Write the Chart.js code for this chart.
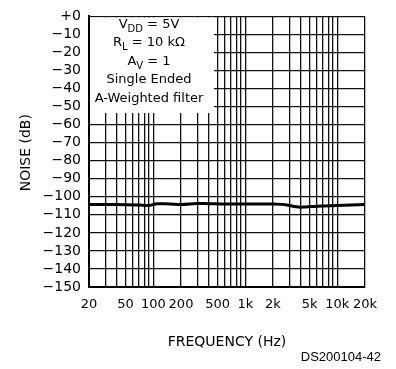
<!DOCTYPE html>
<html>
<head>
<meta charset="utf-8">
<script src="https://cdn.jsdelivr.net/npm/chart.js@4.4.1/dist/chart.umd.min.js"></script>
<style>
  html, body { margin: 0; padding: 0; background: #fff; }
  #wrap { width: 396px; height: 369px; }
</style>
</head>
<body>
<div id="wrap"><canvas id="noise"></canvas></div>
<script>
// values
const freqs   = [20, 30, 50, 70, 90, 110, 150, 200, 300, 400, 600, 1000, 2000, 2500, 3000, 3800, 4500, 6000, 10000, 20000];
const noiseDb = [-104.3, -104.3, -104.4, -104.6, -104.8, -103.9, -104.0, -104.3, -103.7, -103.8, -104.0, -104.0, -104.0, -104.2, -104.8, -105.7, -105.6, -105.2, -104.8, -104.3];

const xGrid = [20, 30, 40, 50, 60, 70, 80, 90, 100, 200, 300, 400, 500, 600, 700, 800, 900,
               1000, 2000, 3000, 4000, 5000, 6000, 7000, 8000, 9000, 10000, 20000];
const xLabelValues = [20, 50, 100, 200, 500, 1000, 2000, 5000, 10000, 20000];
const xLabelText   = ["20", "50", "100", "200", "500", "1k", "2k", "5k", "10k", "20k"];
const yTicks = [0, -10, -20, -30, -40, -50, -60, -70, -80, -90, -100, -110, -120, -130, -140, -150];

const boxLines = [
  [["V", ""], ["DD", "sub"], [" = 5V", ""]],
  [["R", ""], ["L", "sub"], [" = 10 k\u03A9", ""]],
  [["A", ""], ["V", "sub"], [" = 1", ""]],
  [["Single Ended", ""]],
  [["A-Weighted filter", ""]]
];

const FONT = "DejaVu Sans";

function xLabel(v) {
  const i = xLabelValues.findIndex(f => Math.abs(f - v) < 0.01 * f);
  return i >= 0 ? xLabelText[i] : "";
}

// white legend box in the upper left, plus axis titles
const annotate = {
  id: "annotate",
  afterDatasetsDraw(chart) {
    const ctx = chart.ctx;
    const a = chart.chartArea;
    ctx.save();
    ctx.fillStyle = "#fff";
    ctx.fillRect(a.left + 1, a.top + 1, 213 - a.left, 112 - a.top);

    ctx.fillStyle = "#000";
    ctx.textBaseline = "alphabetic";
    const cx = 149;
    let y = 27.5;
    boxLines.forEach(parts => {
      let w = 0;
      parts.forEach(p => {
        ctx.font = (p[1] === "sub" ? "10px " : "13px ") + FONT;
        w += ctx.measureText(p[0]).width;
      });
      let x = cx - w / 2;
      parts.forEach(p => {
        ctx.font = (p[1] === "sub" ? "10px " : "13px ") + FONT;
        ctx.textAlign = "left";
        ctx.fillText(p[0], x, p[1] === "sub" ? y + 4 : y);
        x += ctx.measureText(p[0]).width;
      });
      y += 18.6;
    });

    ctx.font = "14px " + FONT;
    ctx.textAlign = "center";
    ctx.textBaseline = "middle";
    ctx.fillText("FREQUENCY (Hz)", (a.left + a.right) / 2, 342);

    ctx.font = "13px 'Liberation Sans'";
    ctx.textAlign = "right";
    ctx.fillText("DS200104-42", 381, 357);

    ctx.translate(26, (a.top + a.bottom) / 2 + 1);
    ctx.rotate(-Math.PI / 2);
    ctx.font = "14px " + FONT;
    ctx.textAlign = "center";
    ctx.fillText("NOISE (dB)", 0, 0);
    ctx.restore();
  }
};

new Chart(document.getElementById("noise"), {
  type: "line",
  data: {
    datasets: [{
      data: freqs.map((f, i) => ({x: f, y: noiseDb[i]})),
      borderColor: "#000",
      borderWidth: 3,
      pointRadius: 0,
      tension: 0.4,
      fill: false
    }]
  },
  options: {
    responsive: true,
    maintainAspectRatio: false,
    animation: false,
    layout: {padding: {left: 0, top: 12, right: 31, bottom: 0}},
    plugins: {legend: {display: false}, tooltip: {enabled: false}},
    scales: {
      x: {
        type: "logarithmic",
        min: 20,
        max: 20000,
        afterBuildTicks: s => { s.ticks = xGrid.map(v => ({value: v})); },
        afterFit: s => { s.height = 82; },
        grid: {color: "#111", lineWidth: 1.3, drawTicks: false},
        border: {color: "#000", width: 2},
        ticks: {
          autoSkip: false,
          maxRotation: 0,
          minRotation: 0,
          padding: 10,
          color: "#000",
          font: {family: FONT, size: 13},
          callback: v => xLabel(v)
        }
      },
      y: {
        min: -150,
        max: 0,
        afterBuildTicks: s => { s.ticks = yTicks.map(v => ({value: v})); },
        afterFit: s => { s.width = 89; },
        grid: {color: "#111", lineWidth: 1.3, drawTicks: false},
        border: {color: "#000", width: 2},
        ticks: {
          autoSkip: false,
          padding: 8,
          color: "#000",
          font: {family: FONT, size: 14},
          callback: v => v === 0 ? "+0" : "\u2212" + Math.abs(v)
        }
      }
    }
  },
  plugins: [annotate]
});
</script>
</body>
</html>
